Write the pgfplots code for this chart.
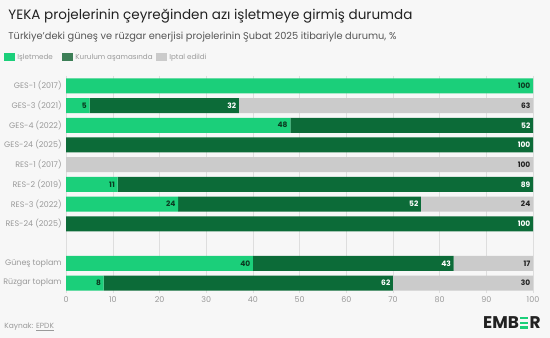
\documentclass[border=0pt]{standalone}
\usepackage{fontspec}
\setmainfont{Poppins}
\usepackage{pgfplots}
\pgfplotsset{compat=1.18}
\usepackage{pgfplotstable}
\definecolor{bg}{HTML}{F7F7F7}
\definecolor{opc}{HTML}{1BCF7A}
\definecolor{conc}{HTML}{0C6B38}
\definecolor{canc}{HTML}{CBCBCB}
\definecolor{titlec}{HTML}{222222}
\definecolor{subc}{HTML}{555555}
\definecolor{tickc}{HTML}{9A9A9A}
\definecolor{gridc}{HTML}{DEDEDE}
\definecolor{darktxt}{HTML}{0B3A20}
\definecolor{legcon}{HTML}{3D7F57}
\definecolor{embg}{HTML}{1BCF7A}
\pgfplotstableread{
y op con canc
0 100 0 0
1 5 32 63
2 48 52 0
3 0 100 0
4 0 0 100
5 11 89 0
6 24 52 24
7 0 100 0
9 40 43 17
10 8 62 30
}\data
\newcommand\greenE{{\color{embg}\rlap{\rule{8bp}{2.4bp}}\rlap{\rule[4.7bp]{8bp}{2.4bp}}\rule[9.4bp]{8bp}{2.4bp}}}
\begin{document}
\begin{tikzpicture}
\fill[bg] (0bp,0bp) rectangle (550bp,-338bp);
\node[anchor=base west, inner sep=0, text=titlec, font=\fontsize{13.6}{15}\selectfont] at (8bp,-20bp) {YEKA projelerinin çeyreğinden azı işletmeye girmiş durumda};
\node[anchor=base west, inner sep=0, text=subc, font=\fontsize{9.85}{11}\selectfont] at (8bp,-40bp) {Türkiye'deki güneş ve rüzgar enerjisi projelerinin Şubat 2025 itibariyle durumu, \%};
% legend
\fill[opc] (4bp,-53bp) rectangle (15bp,-61bp);
\node[anchor=base west, inner sep=0, text=tickc, font=\fontsize{7.2}{9}\selectfont] at (17bp,-60bp) {Işletmede};
\fill[legcon] (62bp,-53bp) rectangle (73bp,-61bp);
\node[anchor=base west, inner sep=0, text=tickc, font=\fontsize{7.2}{9}\selectfont] at (75bp,-60bp) {Kurulum aşamasında};
\fill[canc] (156bp,-53bp) rectangle (167bp,-61bp);
\node[anchor=base west, inner sep=0, text=tickc, font=\fontsize{7.2}{9}\selectfont] at (169bp,-60bp) {Iptal edildi};
\begin{axis}[
  at={(66bp,-76bp)}, anchor=north west,
  width=467bp, height=217bp, scale only axis,
  xmin=0, xmax=100, ymin=-0.5, ymax=10.5, y dir=reverse,
  xbar stacked, bar width=15bp,
  axis line style={draw=none},
  major tick length=0pt,
  xtick={0,10,...,100},
  ytick={0,1,2,3,4,5,6,7,9,10},
  yticklabels={GES-1 (2017),GES-3 (2021),GES-4 (2022),GES-24 (2025),RES-1 (2017),RES-2 (2019),RES-3 (2022),RES-24 (2025),Güneş toplam,Rüzgar toplam},
  xmajorgrids, grid style={gridc, line width=0.6bp},
  tick label style={text=tickc, font=\fontsize{8}{9}\selectfont},
  /pgf/number format/assume math mode=true,
  yticklabel style={xshift=-1bp},
  point meta=explicit,
  visualization depends on={rawx\as\segw},
  nodes near coords={\pgfmathfloatifflags{\pgfplotspointmeta}{0}{}{\pgfmathprintnumber{\pgfplotspointmeta}}},
  every node near coord/.append style={anchor=east, inner xsep=2.5bp, font=\bfseries\fontsize{7.5}{9}\selectfont, xshift={\segw*2.335bp}},
]
\addplot[fill=opc, draw=none, every node near coord/.append style={text=darktxt}] table[x=op, y=y, meta=op] {\data};
\addplot[fill=conc, draw=none, every node near coord/.append style={text=white}] table[x=con, y=y, meta=con] {\data};
\addplot[fill=canc, draw=none, every node near coord/.append style={text=titlec}] table[x=canc, y=y, meta=canc] {\data};
\end{axis}
\node[anchor=base west, inner sep=0, text=tickc, font=\fontsize{7.5}{9}\selectfont] at (4bp,-329bp) {Kaynak: \underline{EPDK}};
\node[anchor=base west, inner sep=0, text=titlec, font=\bfseries\fontsize{17}{18}\selectfont] at (483bp,-329bp) {EMB\hspace{1.3bp}\greenE\hspace{1.3bp}R};
\end{tikzpicture}
\end{document}
